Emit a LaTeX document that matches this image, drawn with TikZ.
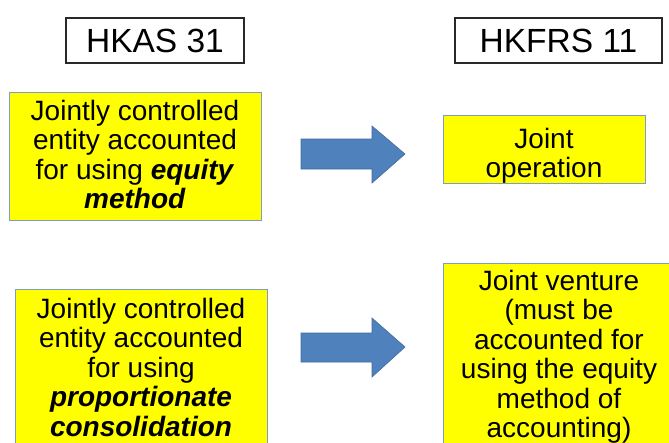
\documentclass[tikz,border=0pt]{standalone}
\usepackage{fontspec}
\setmainfont{Liberation Sans}
\definecolor{boxyellow}{RGB}{255,255,0}
\definecolor{boxedge}{RGB}{126,156,201}
\definecolor{arrowblue}{RGB}{79,129,189}
\definecolor{arrowedge}{RGB}{64,106,158}
\definecolor{hdredge}{RGB}{40,40,40}
\tikzset{
  hdrbox/.style={draw=hdredge, line width=1.3pt, fill=white, inner sep=0pt,
    font=\fontsize{33.5}{36}\selectfont},
  ybox/.style={draw=boxedge, line width=1pt, fill=boxyellow, inner sep=0pt},
  ytext/.style={inner sep=0pt, anchor=north, align=center,
    font=\fontsize{28}{29.5}\selectfont},
  blockarrow/.style={fill=arrowblue, draw=arrowedge, line width=0.6pt}
}
\begin{document}
\begin{tikzpicture}[x=1pt,y=-1pt]
\useasboundingbox (0,0) rectangle (669,442);
\fill[white] (0,0) rectangle (669,442);
\clip (0,0) rectangle (669,442);

% headers
\node[hdrbox, minimum width=178pt, minimum height=45pt] (hkas) at (155,40.5) {HKAS 31};
\node[hdrbox, minimum width=207pt, minimum height=45pt] (hkfrs) at (558.5,40.5) {HKFRS 11};

% yellow boxes
\node[ybox, minimum width=252pt, minimum height=128pt] (tlbox) at (135,156) {};
\node[ybox, minimum width=202pt, minimum height=68pt] (trbox) at (544,149) {};
\node[ybox, minimum width=252pt, minimum height=190pt] (blbox) at (141,384) {};
\node[ybox, minimum width=232pt, minimum height=220pt] (brbox) at (559,373) {};

% texts
\node[ytext] (tltext) at (135,100) {Jointly controlled\\entity accounted\\for using \textbf{\textit{equity}}\\\textbf{\textit{method}}};
\node[ytext] (trtext) at (544,128) {Joint\\operation};
\node[ytext] (bltext) at (141,298) {Jointly controlled\\entity accounted\\for using\\\textbf{\textit{proportionate}}\\\textbf{\textit{consolidation}}};
\node[ytext] (brtext) at (559,270) {Joint venture\\(must be\\accounted for\\using the equity\\method of\\accounting)};

% block arrows
\draw[blockarrow] (301,139) -- (372,139) -- (372,126) -- (405,154) -- (372,183) -- (372,169) -- (301,169) -- cycle;
\draw[blockarrow] (301,333) -- (372,333) -- (372,318) -- (405,347) -- (372,377) -- (372,362) -- (301,362) -- cycle;
\end{tikzpicture}
\end{document}
